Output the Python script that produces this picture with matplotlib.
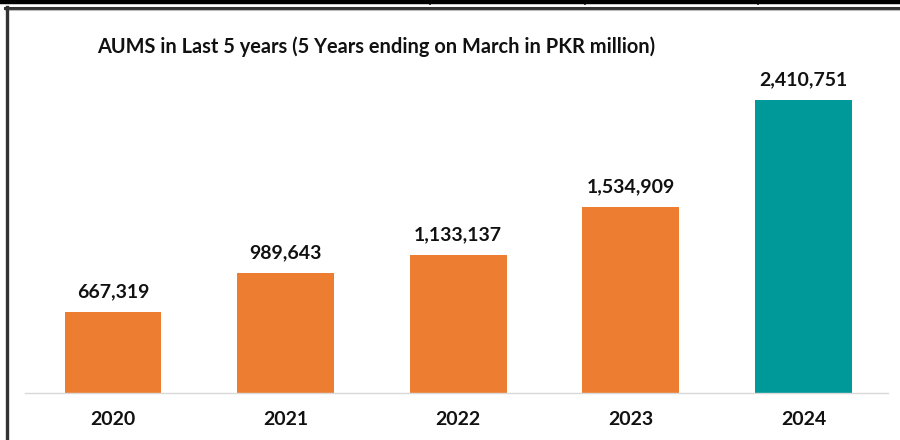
import matplotlib
matplotlib.use("Agg")
import matplotlib.pyplot as plt
from matplotlib.lines import Line2D

years = ["2020", "2021", "2022", "2023", "2024"]
values = [667319, 989643, 1133137, 1534909, 2410751]
colors = ["#ED7D31", "#ED7D31", "#ED7D31", "#ED7D31", "#00999A"]
title = "AUMS in Last 5 years (5 Years ending on March in PKR million)"

W, H = 900, 440
fig = plt.figure(figsize=(W / 100, H / 100), dpi=100)
fig.patch.set_facecolor("white")

def fx(px):
    return px / W

def fy(py):
    return 1 - py / H

# frame decorations
fig.add_artist(Line2D([0, 1], [fy(2), fy(2)], color="black", lw=3.2))
for xv in [430, 585, 758]:
    fig.add_artist(Line2D([fx(xv), fx(xv)], [fy(0), fy(4)], color="black", lw=1.2))
fig.add_artist(Line2D([fx(5), 1], [fy(8), fy(8)], color="#333333", lw=2.2))
fig.add_artist(Line2D([fx(5), 1], [fy(10.2), fy(10.2)], color="#bbbbbb", lw=0.8))
fig.add_artist(Line2D([fx(6.5), fx(6.5)], [fy(7), 0], color="#333333", lw=2.4))

ax = fig.add_axes([fx(25), fy(393), fx(888) - fx(25), (393 - 53) / H])
x = list(range(len(years)))
bars = ax.bar(x, values, width=0.56, color=colors, zorder=2)
ax.set_xlim(-0.51, 4.49)
ax.set_ylim(0, 2.8e6)
for s in ["top", "right", "left"]:
    ax.spines[s].set_visible(False)
ax.spines["bottom"].set_color("#d9d9d9")
ax.spines["bottom"].set_linewidth(1.0)
ax.set_yticks([])
ax.set_xticks(x)
ax.set_xticklabels(years, fontfamily="Lato", fontweight="bold", fontsize=14, color="#111111")
ax.tick_params(axis="x", length=0, pad=13)

for xi, v in zip(x, values):
    ax.annotate(f"{v:,}", (xi, v), xytext=(0, 8.5), textcoords="offset points",
                ha="center", va="bottom", fontfamily="Lato", fontweight="bold",
                fontsize=14, color="#111111")

fig.text(fx(97), fy(47), title, ha="left", va="center", fontfamily="Lato",
         fontweight="bold", fontsize=14.4, color="#111111")

fig.savefig("out.png", dpi=100)
